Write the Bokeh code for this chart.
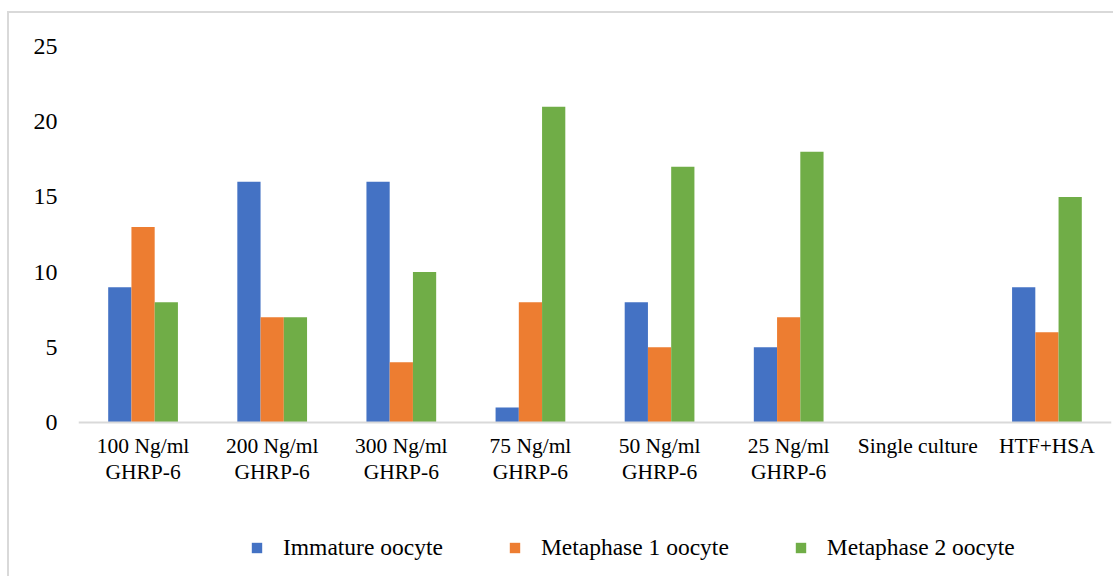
from bokeh.plotting import figure
from bokeh.models import FactorRange, Range1d, Legend, LegendItem, ColumnDataSource, FixedTicker
from bokeh.transform import dodge
from bokeh.embed import file_html
from bokeh.resources import INLINE

categories = ["100 Ng/ml\nGHRP-6", "200 Ng/ml\nGHRP-6", "300 Ng/ml\nGHRP-6",
              "75 Ng/ml\nGHRP-6", "50 Ng/ml\nGHRP-6", "25 Ng/ml\nGHRP-6",
              "Single culture", "HTF+HSA"]
immature = [9, 16, 16, 1, 8, 5, 0, 9]
metaphase1 = [13, 7, 4, 8, 5, 7, 0, 6]
metaphase2 = [8, 7, 10, 21, 17, 18, 0, 15]
series_names = ["Immature oocyte", "Metaphase 1 oocyte", "Metaphase 2 oocyte"]
series_keys = ["immature", "metaphase1", "metaphase2"]
colors = ["#4472C4", "#ED7D31", "#70AD47"]
y_ticks = [0, 5, 10, 15, 20, 25]

FONT = "Liberation Serif"

src = ColumnDataSource(dict(cat=categories, immature=immature,
                            metaphase1=metaphase1, metaphase2=metaphase2))

# frame: 25 at top, extra space below 0 holds the category labels and the legend
p = figure(width=1106, height=565, output_backend="svg", toolbar_location=None,
           x_range=FactorRange(*categories, range_padding=0),
           y_range=Range1d(-10.17, 25),
           min_border_left=69, min_border_right=4, min_border_top=33,
           min_border_bottom=3,
           styles={"border-left": "2px solid #d9d9d9", "border-top": "2px solid #d9d9d9",
                   "margin-top": "11px", "margin-left": "7px"})
p.outline_line_color = None
p.xgrid.grid_line_color = None
p.ygrid.grid_line_color = None

w = 0.18
offsets = [-w, 0, w]
renderers = []
for key, c, off in zip(series_keys, colors, offsets):
    r = p.vbar(x=dodge("cat", off, range=p.x_range), top=key, width=w, source=src,
               fill_color=c, line_color=None)
    renderers.append(r)

p.yaxis.ticker = FixedTicker(ticks=y_ticks)
p.yaxis.axis_line_color = None
p.yaxis.major_tick_line_color = None
p.yaxis.minor_tick_line_color = None
p.yaxis.major_tick_out = 0
p.yaxis.major_tick_in = 0
p.yaxis.major_label_standoff = 21
p.yaxis.major_label_text_font = FONT
p.yaxis.major_label_text_font_size = "24px"
p.yaxis.major_label_text_color = "#000000"

p.xaxis.fixed_location = 0
p.xaxis.axis_line_color = "#d9d9d9"
p.xaxis.axis_line_width = 2
p.xaxis.major_tick_line_color = None
p.xaxis.major_tick_out = 0
p.xaxis.major_tick_in = 0
p.xaxis.major_label_standoff = 11
p.xaxis.major_label_text_font = FONT
p.xaxis.major_label_text_font_size = "21.5px"
p.xaxis.major_label_text_color = "#000000"
p.xaxis.major_label_text_line_height = 1.12

legend = Legend(items=[LegendItem(label=n, renderers=[r]) for n, r in zip(series_names, renderers)],
                orientation="horizontal", location=(172, 14))
legend.glyph_width = 13
legend.glyph_height = 13
legend.label_standoff = 20
legend.spacing = 65
legend.label_text_font = FONT
legend.label_text_font_size = "23.5px"
legend.label_text_color = "#000000"
legend.label_height = 24
legend.padding = 0
legend.margin = 0
legend.border_line_color = None
legend.background_fill_alpha = 0
p.add_layout(legend, "center")

open("out.html", "w").write(file_html(p, INLINE))
